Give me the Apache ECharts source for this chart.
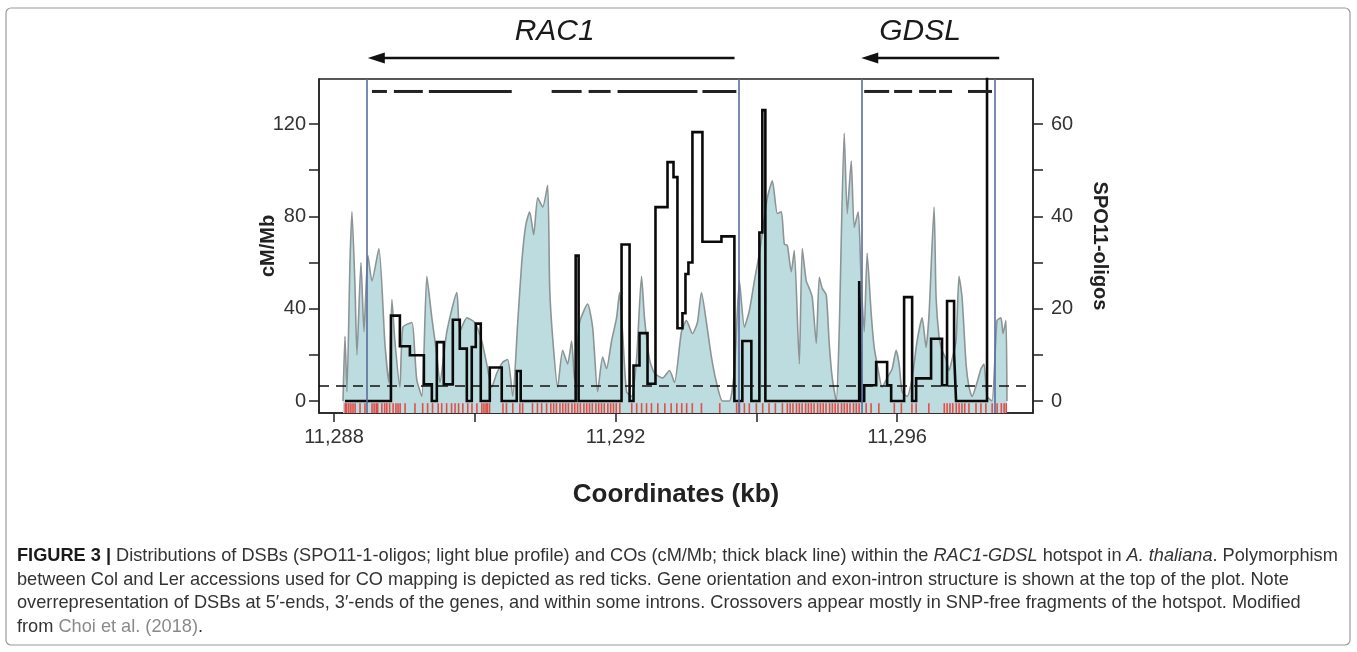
<!DOCTYPE html>
<html><head><meta charset="utf-8">
<script src="https://cdn.jsdelivr.net/npm/echarts@6/dist/echarts.min.js"></script>
<style>html,body{margin:0;padding:0;background:#fff}#c{width:1357px;height:652px}</style>
</head><body><div id="c"></div>
<script>
// ---------- axes ----------
const xMin = 11287.787, xMax = 11297.93;
const xTicks = [11288, 11290, 11292, 11294, 11296];
const xLabels = [11288, 11292, 11296];
const leftTicks = [0, 20, 40, 60, 80, 100, 120];
const leftLabels = [0, 40, 80, 120];
const rightTicks = [0, 10, 20, 30, 40, 50, 60];
const rightLabels = [0, 20, 40, 60];

// ---------- SPO11-1-oligos profile (kb, count) ----------
const spoProfile = [
 [11288.128,0],[11288.156,14],[11288.184,2],[11288.227,30],[11288.255,41],[11288.298,25],[11288.326,10],
 [11288.383,30],[11288.426,15],[11288.482,31.5],[11288.539,26],[11288.638,33],[11288.723,12.5],[11288.780,4],
 [11288.823,22],[11288.865,13],[11288.936,3],[11288.979,16],[11289.106,17],[11289.149,10],[11289.177,4.5],
 [11289.248,1],[11289.319,27],[11289.390,18],[11289.461,10],[11289.504,4],[11289.603,15],[11289.745,23.5],
 [11289.787,15],[11289.887,18],[11290.000,17],[11290.099,13],[11290.170,8],[11290.241,3],[11290.312,6],
 [11290.397,8.4],[11290.468,9],[11290.539,1],[11290.610,17],[11290.667,30],[11290.723,38],[11290.780,41],
 [11290.837,36],[11290.894,44],[11290.965,42],[11291.035,46.7],[11291.064,24.6],[11291.106,13.8],[11291.177,3],
 [11291.248,11],[11291.319,8],[11291.376,13],[11291.418,4.5],[11291.489,17],[11291.603,21],[11291.674,16],
 [11291.745,2],[11291.816,9.5],[11291.872,7],[11291.943,13],[11292.014,18],[11292.057,23.5],[11292.099,15],
 [11292.156,2],[11292.227,1],[11292.298,9],[11292.369,27],[11292.411,18],[11292.482,9],[11292.553,6],
 [11292.667,5],[11292.766,6.6],[11292.837,4],[11292.936,15],[11293.007,17.4],[11293.092,14.6],[11293.163,17],
 [11293.220,23.5],[11293.291,17],[11293.362,9.5],[11293.433,4],[11293.518,0],[11293.617,0],[11293.688,6.6],
 [11293.759,26],[11293.830,16],[11293.901,19.6],[11293.972,26],[11294.043,32],[11294.099,38],[11294.156,44],
 [11294.227,47.7],[11294.298,40.6],[11294.355,41],[11294.397,34],[11294.440,33.7],[11294.496,28],[11294.539,32.6],
 [11294.610,8],[11294.652,33],[11294.709,26],[11294.752,24.4],[11294.794,22.5],[11294.851,12.5],[11294.894,26.8],
 [11294.936,24.4],[11294.993,23],[11295.035,12.5],[11295.078,5],[11295.135,0],[11295.177,15],[11295.248,58],
 [11295.291,40.6],[11295.348,52],[11295.390,37.6],[11295.447,41],[11295.489,26],[11295.532,15],[11295.574,32],
 [11295.631,19],[11295.674,11.6],[11295.716,8],[11295.787,3],[11295.858,5],[11295.929,7],[11295.986,11],
 [11296.028,8],[11296.071,2],[11296.142,1],[11296.213,5],[11296.284,13],[11296.355,18],[11296.411,11.6],
 [11296.454,19],[11296.525,42],[11296.553,22.5],[11296.596,13.8],[11296.638,11],[11296.695,9],[11296.738,6.6],
 [11296.780,9],[11296.837,13],[11296.879,27],[11296.922,22.5],[11296.979,8],[11297.021,3],[11297.064,1],
 [11297.135,4],[11297.191,7],[11297.234,8],[11297.277,1],[11297.348,0],[11297.418,17.4],[11297.475,18],
 [11297.504,14.6],[11297.546,17.4],[11297.560,0]
];

// ---------- crossover rate, step function (interval start kb, cM/Mb) ----------
const coSteps = [
 [11288.156,0],[11288.809,37],[11288.936,23.7],[11289.078,19.8],[11289.277,7.2],[11289.390,0],[11289.461,25.5],
 [11289.560,7.2],[11289.688,35.2],[11289.787,22.7],[11289.887,0],[11289.957,23.4],[11290.014,33.5],[11290.085,0],
 [11290.213,14.5],[11290.383,0],[11290.596,13],[11290.652,0],[11291.433,63],[11291.475,0],[11292.085,67.8],
 [11292.199,0],[11292.255,15.4],[11292.340,29.4],[11292.454,7.5],[11292.567,84],[11292.738,103.5],[11292.823,97],
 [11292.879,31.5],[11292.950,38],[11292.993,55],[11293.035,60],[11293.092,116.5],[11293.234,69],[11293.504,71.3],
 [11293.688,0],[11293.801,26],[11293.929,0],[11294.043,73],[11294.085,126],[11294.128,0],[11295.461,52],
 [11295.489,0],[11295.532,6.8],[11295.702,16.9],[11295.858,6.8],[11295.915,0],[11296.099,45],[11296.213,0],
 [11296.270,9.8],[11296.482,27],[11296.638,6.8],[11296.709,43.3],[11296.809,20.6],[11296.837,0],
 [11297.277,300],[11297.300,300]
];
const coMean = 6.8;

// ---------- SNP (Col/Ler polymorphism) positions, kb ----------
const snpPos = [
 11288.16,11288.18,11288.21,11288.24,11288.27,11288.30,11288.37,11288.44,11288.54,11288.57,11288.60,11288.62,
 11288.68,11288.72,11288.75,11288.79,11288.84,11288.88,11288.91,11288.94,11289.01,11289.15,11289.26,11289.33,
 11289.40,11289.48,11289.53,11289.60,11289.67,11289.72,11289.77,11289.83,11289.90,11289.96,11290.03,11290.10,
 11290.13,11290.16,11290.18,11290.21,11290.40,11290.45,11290.54,11290.64,11290.68,11290.82,11290.89,11290.95,
 11291.02,11291.08,11291.12,11291.16,11291.21,11291.25,11291.29,11291.33,11291.38,11291.42,11291.46,11291.50,
 11291.55,11291.59,11291.63,11291.67,11291.72,11291.76,11291.80,11291.84,11291.89,11291.93,11291.97,11292.01,
 11292.06,11292.23,11292.30,11292.37,11292.44,11292.51,11292.60,11292.70,11292.79,11292.87,11292.94,11293.01,
 11293.09,11293.22,11293.48,11293.72,11293.76,11293.83,11293.90,11294.00,11294.09,11294.18,11294.27,11294.37,
 11294.44,11294.48,11294.52,11294.57,11294.61,11294.65,11294.70,11294.74,11294.78,11294.82,11294.87,11294.91,
 11294.95,11294.99,11295.04,11295.08,11295.12,11295.16,11295.21,11295.25,11295.29,11295.33,11295.38,11295.42,
 11295.46,11295.56,11295.63,11295.74,11295.96,11296.06,11296.21,11296.27,11296.45,11296.67,11296.71,11296.75,
 11296.79,11296.84,11296.88,11296.92,11296.96,11297.02,11297.12,11297.19,11297.26,11297.35,11297.42,11297.48,
 11297.52,11297.55
];

// ---------- gene structure ----------
const geneNames = ['RAC1', 'GDSL'];
const geneStart = [11293.69, 11297.45];   // 5' end (arrow tail)
const geneEnd = [11288.48, 11295.49];     // 3' end (arrow head)
const geneLabelAt = [11291.135, 11296.326];
const geneBounds = [11288.468, 11293.745, 11295.50, 11297.39];
const exons = [
 [11288.539,11288.752],[11288.851,11289.262],[11289.348,11290.525],[11291.092,11291.518],
 [11291.617,11291.929],[11292.028,11293.163],[11293.234,11293.716],
 [11295.532,11295.887],[11295.957,11296.213],[11296.312,11296.553],[11296.596,11296.780],[11297.007,11297.348]
];
const exonLevel = 134.1;

const captionLines = [
 '{b|FIGURE 3 |} Distributions of DSBs (SPO11-1-oligos; light blue profile) and COs (cM/Mb; thick black line) within the {i|RAC1-GDSL} hotspot in {i|A. thaliana}. Polymorphism',
 'between Col and Ler accessions used for CO mapping is depicted as red ticks. Gene orientation and exon-intron structure is shown at the top of the plot. Note',
 'overrepresentation of DSBs at 5\u2032-ends, 3\u2032-ends of the genes, and within some introns. Crossovers appear mostly in SNP-free fragments of the hotspot. Modified',
 'from {g|Choi et al. (2018)}.'
];

const FONT = '"Liberation Sans", Arial, sans-serif';
const CAPFONT = '"Liberation Sans", Arial, sans-serif';
const capSize = 18.2;

const chart = echarts.init(document.getElementById('c'), null, {renderer: 'canvas'});

const captionGraphics = captionLines.map((t, i) => ({
  type: 'text', x: 17, y: 556 + i * 23.7,
  style: {
    text: t, fill: '#333', fontSize: capSize, fontFamily: CAPFONT, verticalAlign: 'middle',
    rich: {
      b: {fontSize: capSize, fontFamily: CAPFONT, fontWeight: 'bold', fill: '#1a1a1a'},
      i: {fontSize: capSize, fontFamily: CAPFONT, fontStyle: 'italic', fill: '#333'},
      g: {fontSize: capSize, fontFamily: CAPFONT, fill: '#8a8a8a'}
    }
  }
}));

const option = {
  animation: false,
  backgroundColor: '#fff',
  grid: [
    {left: 319, right: 324, top: 79, bottom: 239, show: true, borderColor: '#222', borderWidth: 1.5, backgroundColor: 'transparent'},
    {left: 319, right: 324, top: 18, height: 40}
  ],
  xAxis: [
    {
      type: 'value', gridIndex: 0, min: xMin, max: xMax,
      name: 'Coordinates (kb)', nameLocation: 'middle', nameGap: 69, nameMoveOverlap: false,
      nameTextStyle: {fontFamily: FONT, fontSize: 26, fontWeight: 'bold', color: '#222'},
      axisLine: {show: true, onZero: false, lineStyle: {color: '#222', width: 1.5}},
      axisTick: {show: true, customValues: xTicks, length: 9, lineStyle: {color: '#222', width: 1.5}},
      axisLabel: {customValues: xLabels, margin: 14, fontFamily: FONT, fontSize: 20, color: '#333',
        formatter: v => Number(v).toLocaleString('en-US')},
      splitLine: {show: false}
    },
    {type: 'value', gridIndex: 1, min: xMin, max: xMax, show: false}
  ],
  yAxis: [
    {
      type: 'value', gridIndex: 0, min: -5.2, max: 139.5, position: 'left',
      name: 'cM/Mb', nameLocation: 'middle', nameGap: 41, nameRotate: 90, nameMoveOverlap: false,
      nameTextStyle: {fontFamily: FONT, fontSize: 20, fontWeight: 'bold', color: '#222'},
      axisLine: {show: true, onZero: false, lineStyle: {color: '#222', width: 1.5}},
      axisTick: {show: true, customValues: leftTicks, length: 10, lineStyle: {color: '#222', width: 1.5}},
      axisLabel: {customValues: leftLabels, margin: 13, fontFamily: FONT, fontSize: 20, color: '#333'},
      splitLine: {show: false}
    },
    {
      type: 'value', gridIndex: 0, min: -2.6, max: 69.75, position: 'right',
      name: 'SPO11-oligos', nameLocation: 'middle', nameGap: 57, nameRotate: -90, nameMoveOverlap: false,
      nameTextStyle: {fontFamily: FONT, fontSize: 20, fontWeight: 'bold', color: '#222'},
      axisLine: {show: true, onZero: false, lineStyle: {color: '#222', width: 1.5}},
      axisTick: {show: true, customValues: rightTicks, length: 10, lineStyle: {color: '#222', width: 1.5}},
      axisLabel: {customValues: rightLabels, margin: 18, fontFamily: FONT, fontSize: 20, color: '#333'},
      splitLine: {show: false}
    },
    {type: 'value', gridIndex: 1, min: 0, max: 1, show: false}
  ],
  series: [
    {
      name: 'SPO11-1-oligos', type: 'line', xAxisIndex: 0, yAxisIndex: 1, z: 1,
      data: spoProfile, showSymbol: false, smooth: 0.2,
      lineStyle: {color: '#8d9495', width: 1.6},
      areaStyle: {color: '#bcdcdf', opacity: 1, origin: 'start'}
    },
    {
      name: 'SNPs', type: 'scatter', xAxisIndex: 0, yAxisIndex: 0, z: 2,
      data: snpPos.map(p => [p, -3.1]), symbol: 'rect', symbolSize: [1.6, 10],
      itemStyle: {color: '#ee2b22'}, silent: true
    },
    {
      name: 'gene bounds', type: 'line', xAxisIndex: 0, yAxisIndex: 0, z: 3, data: [],
      markLine: {
        silent: true, symbol: 'none', label: {show: false},
        lineStyle: {color: '#5a6d9e', width: 1.6, type: 'solid'},
        data: geneBounds.map(b => ({xAxis: b}))
      }
    },
    {
      name: 'CO', type: 'line', xAxisIndex: 0, yAxisIndex: 0, z: 4,
      data: coSteps, step: 'end', showSymbol: false, clip: true,
      lineStyle: {color: '#0a0a0a', width: 2.6, join: 'miter'},
      markLine: {
        silent: true, symbol: 'none', label: {show: false},
        lineStyle: {color: '#111', width: 1.5, type: [10, 7]},
        data: [{yAxis: coMean}]
      }
    },
    {
      name: 'exons', type: 'custom', xAxisIndex: 0, yAxisIndex: 0, z: 5,
      data: exons.map(e => [e[0], e[1], exonLevel]),
      encode: {x: [0, 1], y: 2},
      renderItem: (params, api) => {
        const a = api.coord([api.value(0), api.value(2)]);
        const b = api.coord([api.value(1), api.value(2)]);
        return {type: 'line', shape: {x1: a[0], y1: a[1], x2: b[0], y2: b[1]},
          style: {stroke: '#222', lineWidth: 3}};
      }
    },
    {
      name: 'genes', type: 'custom', xAxisIndex: 1, yAxisIndex: 2, z: 5,
      data: geneNames.map((n, i) => [geneStart[i], geneEnd[i], geneLabelAt[i]]),
      encode: {x: [0, 1], y: -1},
      renderItem: (params, api) => {
        const s = api.coord([api.value(0), 0]);
        const e = api.coord([api.value(1), 0]);
        const t = api.coord([api.value(2), 0.66]);
        return {type: 'group', children: [
          {type: 'line', shape: {x1: s[0], y1: s[1], x2: e[0] + 10, y2: e[1]},
            style: {stroke: '#111', lineWidth: 2.5}},
          {type: 'polygon', shape: {points: [[e[0], e[1]], [e[0] + 17, e[1] - 5.5], [e[0] + 17, e[1] + 5.5]]},
            style: {fill: '#111'}},
          {type: 'text', style: {text: geneNames[params.dataIndex], x: t[0], y: t[1],
            textAlign: 'center', textVerticalAlign: 'middle',
            fontFamily: FONT, fontSize: 30, fontStyle: 'italic', fill: '#1a1a1a'}}
        ]};
      }
    }
  ],
  graphic: [
    {type: 'rect', shape: {x: 6, y: 8, width: 1344, height: 637, r: 5},
      style: {fill: 'none', stroke: '#9a9a9a', lineWidth: 1.2}, z: -10}
  ].concat(captionGraphics)
};
chart.setOption(option);
</script>
</body></html>
